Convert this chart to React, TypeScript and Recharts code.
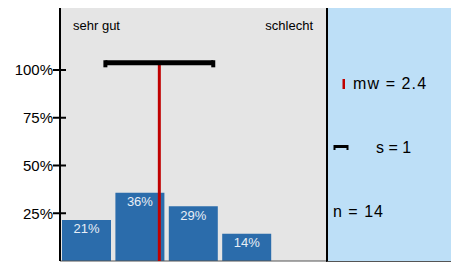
import React from "react";
import {
  ComposedChart,
  Bar,
  XAxis,
  YAxis,
  CartesianGrid,
  ReferenceLine,
  LabelList,
} from "recharts";

const categories = [1, 2, 3, 4, 5];
const shares = [21.4, 35.7, 28.6, 14.3, 0];
const yTicks = [25, 50, 75, 100];
const meanValue = 2.36;
const sdValue = 1.01;
const sdBarLevel = 103.8;
const leftLabel = "sehr gut";
const rightLabel = "schlecht";
const meanLabel = "mw = 2.4";
const sdLabel = "s = 1";
const nLabel = "n = 14";

const FONT = '"Liberation Sans", Arial, sans-serif';
const Y_MAX = 133.5;

const data = categories.map((c, i) => ({ pos: c, v: shares[i] }));

const renderTick = (props: any) => {
  const { x, y, payload } = props;
  return (
    <g>
      <line x1={x - 7} x2={x + 6} y1={y} y2={y} stroke="#000" strokeWidth={2} />
      <text
        x={x - 7}
        y={y}
        textAnchor="end"
        dominantBaseline="central"
        fontSize={15}
        fill="#000"
        fontFamily={FONT}
      >
        {payload.value}%
      </text>
    </g>
  );
};

export default function App() {
  return (
    <div
      style={{
        position: "relative",
        width: 459,
        height: 262,
        margin: "-8px 0 0 -8px",
        fontFamily: FONT,
        background: "#fff",
      }}
    >
      <ComposedChart
        width={459}
        height={262}
        data={data}
        margin={{ top: 6, right: 132, bottom: 1, left: 0 }}
        barSize={49}
      >
        <CartesianGrid horizontal={false} vertical={false} fill="#e5e5e5" />
        <XAxis
          dataKey="pos"
          type="number"
          domain={[0.5, 5.5]}
          hide
          allowDataOverflow
        />
        <YAxis
          width={60}
          domain={[0, Y_MAX]}
          ticks={yTicks}
          tick={renderTick}
          tickSize={0}
          tickMargin={0}
          tickLine={false}
          axisLine={{ stroke: "#000", strokeWidth: 2 }}
          allowDataOverflow
        />
        <Bar dataKey="v" fill="#2b6cab" isAnimationActive={false}>
          <LabelList
            dataKey="v"
            position="insideTop"
            offset={4}
            fill="#e8eef6"
            fontSize={13}
            formatter={(v: any) => (v > 0 ? `${Math.round(v)}%` : "")}
          />
        </Bar>
        <ReferenceLine y={Y_MAX} stroke="#000" strokeWidth={2} />
        <ReferenceLine y={0} stroke="#555" strokeWidth={1} />
        <ReferenceLine
          segment={[
            { x: meanValue, y: 0 },
            { x: meanValue, y: sdBarLevel },
          ]}
          stroke="#c00000"
          strokeWidth={3}
        />
        <ReferenceLine
          segment={[
            { x: meanValue - sdValue, y: sdBarLevel },
            { x: meanValue + sdValue, y: sdBarLevel },
          ]}
          stroke="#000"
          strokeWidth={5}
        />
        <ReferenceLine
          segment={[
            { x: meanValue - sdValue, y: sdBarLevel + 1.3 },
            { x: meanValue - sdValue, y: sdBarLevel - 2.4 },
          ]}
          stroke="#000"
          strokeWidth={4}
        />
        <ReferenceLine
          segment={[
            { x: meanValue + sdValue, y: sdBarLevel + 1.3 },
            { x: meanValue + sdValue, y: sdBarLevel - 2.4 },
          ]}
          stroke="#000"
          strokeWidth={4}
        />
      </ComposedChart>
      <div
        style={{
          position: "absolute",
          left: 326,
          top: 5,
          width: 130,
          height: 257,
          boxSizing: "border-box",
          background: "#bddff7",
          borderLeft: "2px solid #000",
          borderTop: "2px solid #000",
          borderRight: "2px solid #000",
          borderBottom: "1px solid #555",
        }}
      />
      <svg
        width={459}
        height={262}
        style={{ position: "absolute", left: 0, top: 0, pointerEvents: "none" }}
      >
        <text x={73} y={30} fontSize={13} fill="#000" fontFamily={FONT}>
          {leftLabel}
        </text>
        <text x={313} y={30} fontSize={13} fill="#000" textAnchor="end" fontFamily={FONT}>
          {rightLabel}
        </text>
        <rect x={342.5} y={79} width={2.5} height={10} fill="#c00000" />
        <text x={353} y={89} fontSize={16} fill="#000" letterSpacing={1.1} fontFamily={FONT}>
          {meanLabel}
        </text>
        <path d="M334,146.5 H348" stroke="#000" strokeWidth={3} fill="none" />
        <path d="M334.5,145 V150 M347.5,145 V150" stroke="#000" strokeWidth={2} fill="none" />
        <text x={376} y={152.5} fontSize={16} fill="#000" fontFamily={FONT}>
          {sdLabel}
        </text>
        <text x={333} y={217} fontSize={16} fill="#000" letterSpacing={1} fontFamily={FONT}>
          {nLabel}
        </text>
      </svg>
    </div>
  );
}
